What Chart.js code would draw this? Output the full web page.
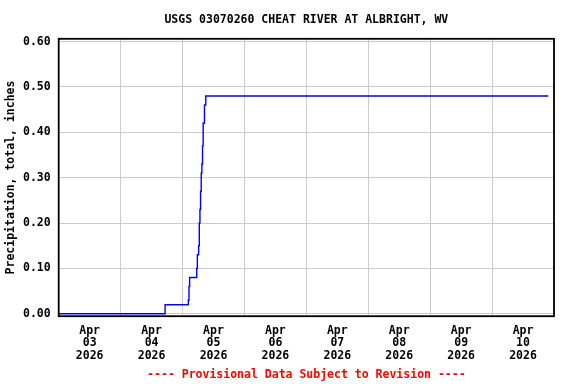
<!DOCTYPE html>
<html>
<head>
<meta charset="utf-8">
<script src="https://cdn.jsdelivr.net/npm/chart.js@4.4.1/dist/chart.umd.min.js"></script>
<style>
  html, body { margin: 0; padding: 0; background: #fff; }
  #c { display: block; }
</style>
</head>
<body>
<canvas id="c" width="576" height="384"></canvas>
<script>
/* USGS 03070260 precipitation, cumulative — hours since Apr 03 2026 00:00 */
const TITLE = "USGS 03070260 CHEAT RIVER AT ALBRIGHT, WV";
const Y_TITLE = "Precipitation, total, inches";
const NOTE = "---- Provisional Data Subject to Revision ----";

const HOURS = [0, 41.25, 50.25, 50.5, 50.75, 53.5, 53.75, 54.25, 54.5, 54.75, 55.0, 55.25, 55.5, 55.75, 56.0, 56.5, 57.0, 189.75];
const PRECIP = [0.00, 0.02, 0.03, 0.06, 0.08, 0.10, 0.13, 0.15, 0.20, 0.23, 0.27, 0.31, 0.33, 0.37, 0.42, 0.46, 0.48, 0.48];

const MONTH = "Apr";
const YEAR = "2026";
const FIRST_DAY = 3;
const Y_TICKS = [0.0, 0.1, 0.2, 0.3, 0.4, 0.5, 0.6];

const FONT = { family: "'DejaVu Sans Mono', monospace", size: 11.5, weight: "bold" };
const GRID = "#cccccc";

const frame = {
  id: "frame",
  afterDraw(chart) {
    const a = chart.chartArea, ctx = chart.ctx;
    ctx.save();
    ctx.strokeStyle = "#000";
    ctx.lineWidth = 1.8;
    ctx.strokeRect(a.left, a.top, a.right - a.left, a.bottom - a.top);
    ctx.restore();
  }
};

new Chart(document.getElementById("c"), {
  type: "line",
  data: {
    datasets: [{
      data: HOURS.map((h, i) => ({ x: h, y: PRECIP[i] })),
      borderColor: "#0000ff",
      borderWidth: 1.4,
      pointRadius: 0,
      stepped: true,
      fill: false,
    }],
  },
  options: {
    responsive: false,
    animation: false,
    layout: { padding: { left: 0, right: 22, top: 0, bottom: 0 } },
    plugins: {
      legend: { display: false },
      tooltip: { enabled: false },
      title: {
        display: true, text: TITLE, color: "#000", font: FONT, fullSize: false,
        padding: { top: 13, bottom: 12 },
      },
      subtitle: {
        display: true, text: NOTE, color: "#ff0000", font: FONT, position: "bottom", fullSize: false,
        padding: { top: 2, bottom: 2 },
      },
    },
    scales: {
      x: {
        type: "linear", min: 0, max: 192,
        afterFit: s => { s.height = 50; },
        border: { display: false },
        grid: {
          drawTicks: false,
          color: c => (c.tick && c.tick.value % 24 === 0 ? GRID : "rgba(0,0,0,0)"),
        },
        ticks: {
          stepSize: 12, autoSkip: false, maxRotation: 0, color: "#000", padding: 8,
          font: { ...FONT, lineHeight: 1.1 },
          callback: v => {
            if (v % 24 !== 12) return "";
            const d = FIRST_DAY + Math.floor(v / 24);
            return [MONTH, String(d).padStart(2, "0"), YEAR];
          },
        },
      },
      y: {
        min: -0.0053, max: 0.606,
        afterFit: s => { s.width = 58.7; },
        afterBuildTicks: s => { s.ticks = Y_TICKS.map(v => ({ value: v })); },
        border: { display: false },
        grid: { drawTicks: false, color: GRID },
        title: { display: true, text: Y_TITLE, color: "#000", font: FONT, padding: { top: 4, bottom: 0 } },
        ticks: { color: "#000", font: FONT, padding: 8, callback: v => v.toFixed(2) },
      },
    },
  },
  plugins: [frame],
});
</script>
</body>
</html>
